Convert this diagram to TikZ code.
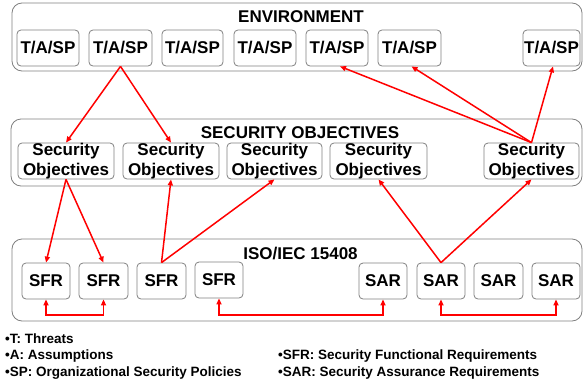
\documentclass[tikz,border=0pt]{standalone}
\usepackage{fontspec}
\setmainfont{Liberation Sans}
\usetikzlibrary{arrows.meta}
\definecolor{boxgray}{RGB}{128,128,128}
\definecolor{linkred}{RGB}{255,0,0}
\begin{document}
\begin{tikzpicture}[x=1pt,y=-1pt,
  group/.style={draw=boxgray,line width=0.8pt,rounded corners=10pt},
  item/.style={draw=boxgray,line width=0.8pt,rounded corners=4pt,
    minimum height=36pt,inner sep=0pt,align=center,
    font=\fontsize{17}{20}\selectfont\bfseries},
  title/.style={font=\fontsize{17}{20}\selectfont\bfseries,inner sep=0pt},
  legend/.style={font=\fontsize{13.5}{16}\selectfont\bfseries,inner sep=0pt,anchor=west},
  link/.style={draw=linkred,line width=1.5pt,-{Triangle[length=6pt,width=5pt]}},
  pairlink/.style={draw=linkred,line width=1.5pt,
    {Triangle[length=6pt,width=5pt]}-{Triangle[length=6pt,width=5pt]}}]
\useasboundingbox (0,0) rectangle (583,383);

% group frames
\draw[group] (12,3) rectangle (582,71);
\draw[group] (11,119) rectangle (582,186);
\draw[group] (12,239) rectangle (582,321);

\node[title] (envtitle) at (301,17) {ENVIRONMENT};
\node[title] (sotitle) at (300,133) {SECURITY OBJECTIVES};
\node[title] (isotitle) at (300.5,254) {ISO/IEC 15408};

% threats / assumptions / policies
\node[item,minimum width=62pt] (t1) at (48,48) {T/A/SP};
\node[item,minimum width=63pt] (t2) at (120.5,48) {T/A/SP};
\node[item,minimum width=61pt] (t3) at (192.5,48) {T/A/SP};
\node[item,minimum width=62pt] (t4) at (265,48) {T/A/SP};
\node[item,minimum width=62pt] (t5) at (337,48) {T/A/SP};
\node[item,minimum width=63pt] (t6) at (409.5,48) {T/A/SP};
\node[item,minimum width=57pt] (t7) at (551.5,48) {T/A/SP};

% security objectives
\node[item,minimum width=96pt] (so1) at (66,161) {Security\\Objectives};
\node[item,minimum width=96pt] (so2) at (171,161) {Security\\Objectives};
\node[item,minimum width=95pt] (so3) at (274.5,161) {Security\\Objectives};
\node[item,minimum width=97pt] (so4) at (378.5,161) {Security\\Objectives};
\node[item,minimum width=95pt] (so5) at (531.5,161) {Security\\Objectives};

% requirements
\node[item,minimum width=48pt] (sfr1) at (46,281) {SFR};
\node[item,minimum width=49pt] (sfr2) at (103.5,281) {SFR};
\node[item,minimum width=49pt] (sfr3) at (161.5,281) {SFR};
\node[item,minimum width=48pt] (sfr4) at (219,280) {SFR};
\node[item,minimum width=48pt] (sar1) at (383,281) {SAR};
\node[item,minimum width=48pt] (sar2) at (441,281) {SAR};
\node[item,minimum width=49pt] (sar3) at (498.5,281) {SAR};
\node[item,minimum width=48pt] (sar4) at (556,281) {SAR};

% links between layers
\draw[link] (t2.south) -- (so1.north);
\draw[link] (t2.south) -- (so2.north);
\draw[link] (so5.north) -- ([xshift=3pt]t5.south);
\draw[link] (so5.north) -- ([xshift=2pt]t6.south);
\draw[link] (so5.north) -- ([xshift=1.5pt]t7.south);
\draw[link] (so1.south) -- (sfr1.north);
\draw[link] (so1.south) -- (sfr2.north);
\draw[link] (sfr3.north) -- (so2.south);
\draw[link] (sfr3.north) -- (so3.south);
\draw[link] (sar2.north) -- (so4.south);
\draw[link] (sar2.north) -- (so5.south);

% dependencies along the bottom rail
\coordinate (rail) at (0,315);
\draw[pairlink] (sfr1.south) -- (sfr1.south |- rail) -| (sfr2.south);
\draw[pairlink] (sfr4.south) -- (sfr4.south |- rail) -| (sar1.south);
\draw[pairlink] (sar2.south) -- (sar2.south |- rail) -| (sar4.south);

% legend
\node[legend] (lt) at (5,339) {•T: Threats};
\node[legend] (la) at (5,356) {•A: Assumptions};
\node[legend] (lsp) at (5,373) {•SP: Organizational Security Policies};
\node[legend] (lsfr) at (278,356) {•SFR: Security Functional Requirements};
\node[legend] (lsar) at (278,373) {•SAR: Security Assurance Requirements};
\end{tikzpicture}
\end{document}
